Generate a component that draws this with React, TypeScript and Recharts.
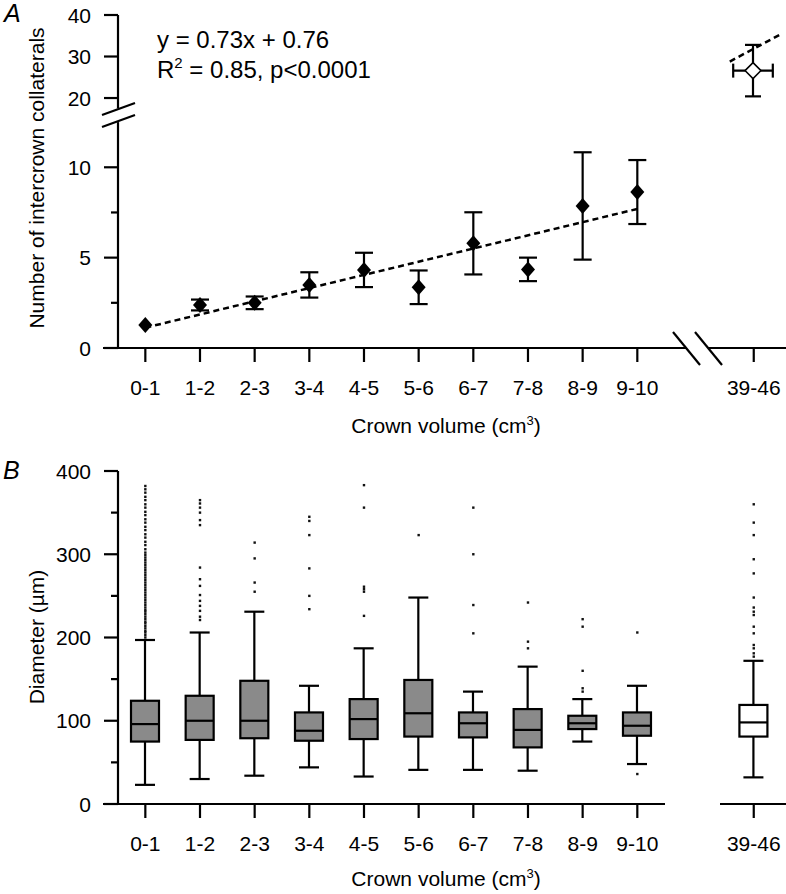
import React from "react";
import { ComposedChart, Scatter, Bar, XAxis, YAxis, ErrorBar, ReferenceLine } from "recharts";

const FONT = "'Liberation Sans', Arial, Helvetica, sans-serif";

// categories on the (broken) crown volume axis
const CATEGORIES = ["0-1", "1-2", "2-3", "3-4", "4-5", "5-6", "6-7", "7-8", "8-9", "9-10"];
const CATEGORY_POS = [0.5, 1.5, 2.5, 3.5, 4.5, 5.5, 6.5, 7.5, 8.5, 9.5];
const LAST_CATEGORY = "39-46";
const LAST_POS = 11.63; // slot of 39-46 after the axis break

// panel A: intercrown collaterals, mean +/- sd
const COLLATERAL_MEAN = [1.27, 2.38, 2.5, 3.49, 4.32, 3.36, 5.79, 4.35, 7.86, 8.63];
const COLLATERAL_SD = [0, 0.3, 0.35, 0.7, 0.95, 0.93, 1.72, 0.65, 2.97, 1.77];
const LAST_VOLUME = 42.5;
const LAST_VOLUME_HALF = 3.5;
const LAST_COLLATERAL_MEAN = 26.6;
const LAST_COLLATERAL_SD = 6.2;
const FIT_SLOPE = 0.73;
const FIT_INTERCEPT = 0.76;
const FIT_LOWER_X = [0.5, 9.5];
const FIT_UPPER_X = [38.4, 47.4];

// panel B: diameter box plots (last entry = 39-46)
const DIAM_MIN = [23, 30, 34, 44, 33, 41, 41, 40, 75, 48, 32];
const DIAM_Q1 = [75, 77, 79, 76, 78, 81, 80, 68, 90, 82, 81];
const DIAM_MED = [96, 100, 100, 88, 102, 109, 97, 89, 97, 94, 98];
const DIAM_Q3 = [124, 130, 148, 110, 126, 149, 110, 114, 106, 110, 119];
const DIAM_MAX = [197, 206, 231, 142, 187, 248, 135, 165, 126, 142, 172];
const DIAM_OUTLIERS: number[][] = [
  [200, 203, 206, 208, 211, 214, 217, 219, 222, 225, 228, 231, 233, 236, 239, 242, 245, 248, 251, 254, 257, 260,
    263, 266, 269, 272, 275, 278, 281, 284, 287, 290, 293, 296, 299, 302, 306, 311, 315, 320, 324, 329, 333, 338,
    342, 347, 351, 356, 360, 365, 369, 374, 378, 382],
  [221, 225, 232, 238, 244, 251, 262, 270, 284, 335, 341, 350, 356, 361, 365],
  [255, 266, 295, 314],
  [234, 250, 283, 323, 340, 345],
  [226, 255, 258, 261, 356, 383],
  [323],
  [205, 239, 300, 356],
  [187, 195, 242],
  [135, 139, 160, 213, 222],
  [36, 206],
  [177, 181, 187, 191, 205, 213, 227, 231, 236, 248, 277, 294, 323, 338, 360],
];

const X_TICKS = [...CATEGORY_POS, LAST_POS];
const X_LABELS = [...CATEGORIES, LAST_CATEGORY];
const X_DOMAIN = [0, 12.22];
const UPPER_X_DOMAIN = [-69.69, 48.33];

const fit = (x: number) => FIT_SLOPE * x + FIT_INTERCEPT;

const meanData = CATEGORY_POS.map((x, i) => ({ x, y: COLLATERAL_MEAN[i], err: COLLATERAL_SD[i] }));
const lastData = [{ x: LAST_VOLUME, y: LAST_COLLATERAL_MEAN, err: LAST_COLLATERAL_SD, xerr: LAST_VOLUME_HALF }];
const boxData = X_TICKS.map((x, i) => ({
  x,
  range: [DIAM_MIN[i], DIAM_MAX[i]],
  min: DIAM_MIN[i], q1: DIAM_Q1[i], med: DIAM_MED[i], q3: DIAM_Q3[i], max: DIAM_MAX[i],
  fill: i === X_TICKS.length - 1 ? "#ffffff" : "#8a8a8a",
}));
const outlierData = DIAM_OUTLIERS.flatMap((list, i) => list.map((y) => ({ x: X_TICKS[i], y })));

const makeYTick = (majors: number[]) => (props: any) => {
  const { x, y, payload } = props;
  const major = majors.includes(payload.value);
  return (
    <g>
      <line x1={x - (major ? 14 : 7)} x2={x} y1={y} y2={y} stroke="#000" strokeWidth={2.2} />
      {major && (
        <text x={x - 27} y={y} dy="0.36em" textAnchor="end" fontSize={21} fontFamily={FONT} fill="#000">
          {payload.value}
        </text>
      )}
    </g>
  );
};

const FilledDiamond = ({ cx, cy }: any) => (
  <polygon points={`${cx},${cy - 8} ${cx + 7},${cy} ${cx},${cy + 8} ${cx - 7},${cy}`} fill="#000" />
);
const OpenDiamond = ({ cx, cy }: any) => (
  <polygon points={`${cx},${cy - 8} ${cx + 8},${cy} ${cx},${cy + 8} ${cx - 8},${cy}`} fill="#fff" stroke="#000" strokeWidth={1.5} />
);
const Dot = ({ cx, cy }: any) => <rect x={cx - 1.2} y={cy - 1.2} width={2.4} height={2.4} fill="#111" />;

const BoxShape = (props: any) => {
  const { x, y, width, height, payload } = props;
  const { min, q1, med, q3, max, fill } = payload;
  const cx = x + width / 2;
  const py = (v: number) => y + (height * (max - v)) / (max - min);
  const cap = 10;
  return (
    <g stroke="#000" strokeWidth={2.2}>
      <line x1={cx} x2={cx} y1={py(max)} y2={py(min)} />
      <line x1={cx - cap} x2={cx + cap} y1={py(max)} y2={py(max)} />
      <line x1={cx - cap} x2={cx + cap} y1={py(min)} y2={py(min)} />
      <rect x={x} y={py(q3)} width={width} height={py(q1) - py(q3)} fill={fill} />
      <line x1={x} x2={x + width} y1={py(med)} y2={py(med)} />
    </g>
  );
};

const xTickProps = { fontSize: 21, fill: "#000", fontFamily: FONT };

export default function App() {
  const pos = (top: number): React.CSSProperties => ({ position: "absolute", left: 0, top });
  return (
    <div style={{ position: "absolute", left: 0, top: 0, width: 786, height: 894, background: "#fff", overflow: "hidden" }}>
      {/* panel A, upper segment of the y axis (20-40) */}
      <div style={pos(0)}>
        <ComposedChart width={786} height={120} margin={{ top: 15, right: 0, bottom: 11.6, left: 0 }}>
          <XAxis type="number" dataKey="x" domain={UPPER_X_DOMAIN} allowDataOverflow hide />
          <YAxis type="number" dataKey="y" width={118} domain={[17.5, 40]} allowDataOverflow ticks={[20, 25, 30, 35, 40]}
            tickSize={0} tickMargin={0} tickLine={false} axisLine={{ stroke: "#000", strokeWidth: 2.2 }} tick={makeYTick([20, 30, 40])} />
          <ReferenceLine segment={FIT_UPPER_X.map((x) => ({ x, y: fit(x) }))} stroke="#000" strokeWidth={2.5} strokeDasharray="6 4" />
          <Scatter data={lastData} dataKey="y" shape={OpenDiamond} isAnimationActive={false}>
            <ErrorBar dataKey="err" direction="y" width={8} strokeWidth={2.2} stroke="#000" />
            <ErrorBar dataKey="xerr" direction="x" width={7} strokeWidth={2.2} stroke="#000" />
          </Scatter>
        </ComposedChart>
      </div>

      {/* panel A, lower segment (0-12) */}
      <div style={pos(0)}>
        <ComposedChart width={786} height={408} margin={{ top: 122.1, right: 0, bottom: 0, left: 0 }}>
          <XAxis type="number" dataKey="x" domain={X_DOMAIN} allowDataOverflow ticks={X_TICKS} interval={0} height={60}
            axisLine={false} tickSize={14} tickMargin={18} tickLine={{ stroke: "#000", strokeWidth: 2.2 }} tick={xTickProps}
            tickFormatter={(v: number) => X_LABELS[X_TICKS.indexOf(v)]} />
          <YAxis type="number" dataKey="y" width={118} domain={[0, 12.5]} allowDataOverflow ticks={[0, 2.5, 5, 7.5, 10]}
            tickSize={0} tickMargin={0} tickLine={false} axisLine={{ stroke: "#000", strokeWidth: 2.2 }} tick={makeYTick([0, 5, 10])} />
          <ReferenceLine segment={FIT_LOWER_X.map((x) => ({ x, y: fit(x) }))} stroke="#000" strokeWidth={2.5} strokeDasharray="6 4" />
          <Scatter data={meanData} dataKey="y" shape={FilledDiamond} isAnimationActive={false}>
            <ErrorBar dataKey="err" direction="y" width={9} strokeWidth={2.2} stroke="#000" />
          </Scatter>
        </ComposedChart>
      </div>

      {/* panel B */}
      <div style={pos(440)}>
        <ComposedChart width={786} height={454} data={boxData} margin={{ top: 31, right: 0, bottom: 0, left: 0 }}>
          <XAxis type="number" dataKey="x" domain={X_DOMAIN} allowDataOverflow ticks={X_TICKS} interval={0} height={90}
            axisLine={false} tickSize={14} tickMargin={18} tickLine={{ stroke: "#000", strokeWidth: 2.2 }} tick={xTickProps}
            tickFormatter={(v: number) => X_LABELS[X_TICKS.indexOf(v)]} />
          <YAxis type="number" width={118} domain={[0, 400]} allowDataOverflow ticks={[0, 50, 100, 150, 200, 250, 300, 350, 400]}
            tickSize={0} tickMargin={0} tickLine={false} axisLine={{ stroke: "#000", strokeWidth: 2.2 }} tick={makeYTick([0, 100, 200, 300, 400])} />
          <Scatter data={outlierData} dataKey="y" shape={Dot} isAnimationActive={false} />
          <Bar dataKey="range" barSize={28} shape={BoxShape} isAnimationActive={false} />
        </ComposedChart>
      </div>

      {/* axis lines with breaks, titles */}
      <svg width={786} height={894} style={{ position: "absolute", left: 0, top: 0, pointerEvents: "none" }}
        fontFamily={FONT} fill="#000">
        <g stroke="#000" strokeWidth={2.2}>
          <line x1={103} x2={686} y1={348} y2={348} />
          <line x1={708} x2={786} y1={348} y2={348} />
          <line x1={673} x2={700} y1={332} y2={365} />
          <line x1={695} x2={722} y1={332} y2={365} />
          <line x1={102} x2={135} y1={115} y2={103} />
          <line x1={102} x2={135} y1={127} y2={115} />
          <line x1={103} x2={665} y1={804} y2={804} />
          <line x1={720} x2={786} y1={804} y2={804} />
        </g>
        <text x={4} y={22} fontSize={25} fontStyle="italic">A</text>
        <text x={3} y={479} fontSize={25} fontStyle="italic">B</text>
        <text x={157} y={48} fontSize={24}>y = 0.73x + 0.76</text>
        <text x={157} y={78} fontSize={24}>
          R<tspan dy={-10} fontSize={15}>2</tspan><tspan dy={10}> = 0.85, p&lt;0.0001</tspan>
        </text>
        <text transform="translate(44,178) rotate(-90)" textAnchor="middle" fontSize={21}>Number of intercrown collaterals</text>
        <text transform="translate(44,637) rotate(-90)" textAnchor="middle" fontSize={21}>Diameter (µm)</text>
        <text x={446} y={433} textAnchor="middle" fontSize={21}>
          Crown volume (cm<tspan dy={-8} fontSize={13}>3</tspan><tspan dy={8}>)</tspan>
        </text>
        <text x={446} y={886} textAnchor="middle" fontSize={21}>
          Crown volume (cm<tspan dy={-8} fontSize={13}>3</tspan><tspan dy={8}>)</tspan>
        </text>
      </svg>
    </div>
  );
}
